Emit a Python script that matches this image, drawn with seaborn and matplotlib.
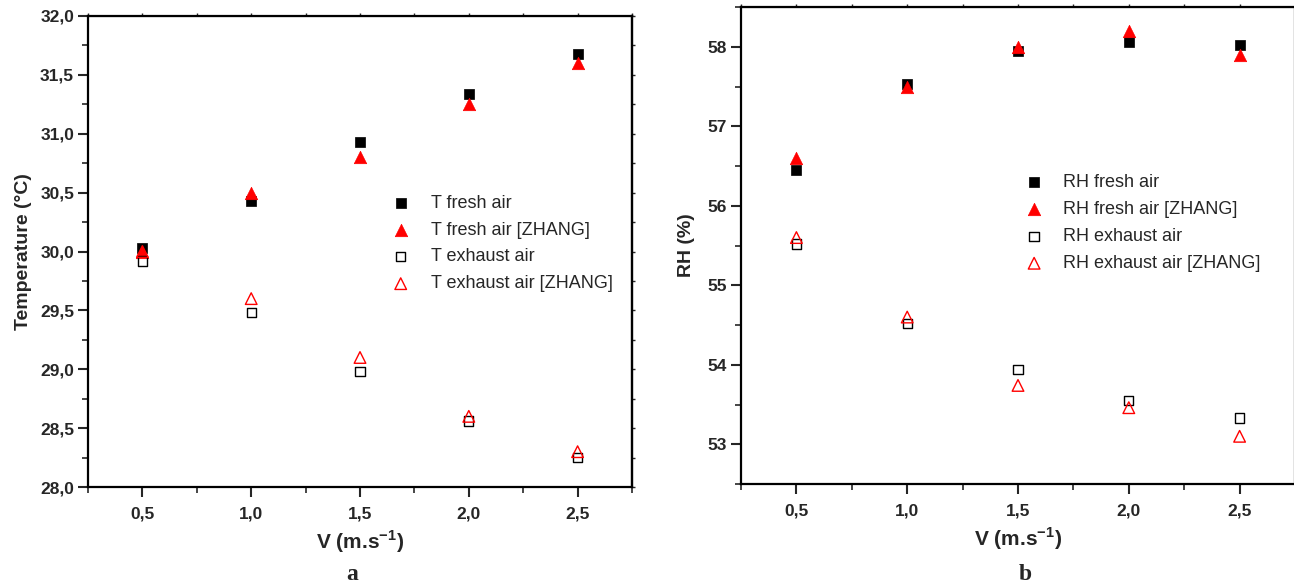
import numpy as np
import pandas as pd
import matplotlib
matplotlib.use("Agg")
import matplotlib.pyplot as plt
import seaborn as sns
from matplotlib.ticker import MultipleLocator, FuncFormatter

# data
v = [0.5, 1.0, 1.5, 2.0, 2.5]

t_fresh = [30.03, 30.43, 30.93, 31.34, 31.68]
t_fresh_zhang = [30.00, 30.50, 30.80, 31.25, 31.60]
t_exhaust = [29.92, 29.48, 28.98, 28.56, 28.25]
t_exhaust_zhang = [30.00, 29.60, 29.10, 28.60, 28.30]

rh_fresh = [56.45, 57.53, 57.95, 58.06, 58.02]
rh_fresh_zhang = [56.60, 57.50, 58.00, 58.20, 57.90]
rh_exhaust = [55.52, 54.52, 53.94, 53.55, 53.33]
rh_exhaust_zhang = [55.60, 54.60, 53.74, 53.46, 53.10]

sns.set_style("ticks")
plt.rcParams['font.family'] = ['Liberation Sans', 'DejaVu Sans']

fig = plt.figure(figsize=(12.94, 5.85), dpi=100)
ax1 = fig.add_axes([88 / 1294, 1 - 487 / 585, 544 / 1294, 471 / 585])
ax2 = fig.add_axes([741 / 1294, 1 - 484 / 585, 554 / 1294, 477 / 585])

comma = FuncFormatter(lambda x, p: f"{x:.1f}".replace(".", ","))


def draw(ax, series, prefix):
    # (values, label suffix, marker, filled, colour, size)
    for vals, name, mk, filled, col, size in series:
        df = pd.DataFrame({"v": v, "y": vals})
        if filled:
            sns.scatterplot(data=df, x="v", y="y", ax=ax, marker=mk, s=size,
                            color=col, edgecolor=col, linewidth=0.5,
                            label=f"{prefix} {name}")
        else:
            sns.scatterplot(data=df, x="v", y="y", ax=ax, marker=mk, s=size,
                            facecolors="none", edgecolor=col, linewidth=1.0,
                            label=f"{prefix} {name}")


draw(ax1, [
    (t_fresh, "fresh air", "s", True, "black", 60),
    (t_fresh_zhang, "fresh air [ZHANG]", "^", True, "red", 80),
    (t_exhaust, "exhaust air", "s", False, "black", 45),
    (t_exhaust_zhang, "exhaust air [ZHANG]", "^", False, "red", 70),
], "T")
draw(ax2, [
    (rh_fresh, "fresh air", "s", True, "black", 60),
    (rh_fresh_zhang, "fresh air [ZHANG]", "^", True, "red", 80),
    (rh_exhaust, "exhaust air", "s", False, "black", 45),
    (rh_exhaust_zhang, "exhaust air [ZHANG]", "^", False, "red", 70),
], "RH")

ax1.set_ylim(28, 32)
ax1.yaxis.set_major_locator(MultipleLocator(0.5))
ax1.yaxis.set_minor_locator(MultipleLocator(0.25))
ax1.yaxis.set_major_formatter(comma)
ax1.set_ylabel("Temperature (°C)", fontsize=14, fontweight="bold", labelpad=6)

ax2.set_ylim(52.5, 58.5)
ax2.yaxis.set_major_locator(MultipleLocator(1))
ax2.yaxis.set_minor_locator(MultipleLocator(0.5))
ax2.set_ylabel("RH (%)", fontsize=14, fontweight="bold", labelpad=9)

for ax in (ax1, ax2):
    ax.set_xlim(0.25, 2.75)
    ax.xaxis.set_major_locator(MultipleLocator(0.5))
    ax.xaxis.set_minor_locator(MultipleLocator(0.25))
    ax.xaxis.set_major_formatter(comma)
    ax.set_xlabel("V (m.s$^{\\mathregular{-1}}$)", fontsize=15, fontweight="bold",
                  labelpad=5)
    for sp in ax.spines.values():
        sp.set_visible(True)
        sp.set_linewidth(1.6)
        sp.set_color("black")
    ax.tick_params(which="major", direction="out", length=7, width=1.5,
                   labelsize=12.5)
    ax.tick_params(which="minor", direction="out", length=4, width=1.2)
    ax.tick_params(axis="x", which="major", pad=7)
    ax.tick_params(axis="y", which="major", pad=3)
    for lab in ax.get_xticklabels() + ax.get_yticklabels():
        lab.set_fontweight("bold")
    # short mirrored ticks on top and right
    top = ax.secondary_xaxis("top")
    top.xaxis.set_major_locator(MultipleLocator(0.25))
    top.tick_params(direction="out", length=2, width=1, labeltop=False)
    right = ax.secondary_yaxis("right")
    right.yaxis.set_major_locator(MultipleLocator(0.25 if ax is ax1 else 0.5))
    right.tick_params(direction="out", length=2, width=1, labelright=False)
    right.spines["right"].set_linewidth(1.6)

ax1.legend(loc="center left", bbox_to_anchor=(0.535, 0.517), frameon=False,
           fontsize=13, handlelength=1.0, handletextpad=1.2, labelspacing=0.55,
           borderpad=0.2)
ax2.legend(loc="center left", bbox_to_anchor=(0.49, 0.547), frameon=False,
           fontsize=13, handlelength=1.0, handletextpad=1.1, labelspacing=0.55,
           borderpad=0.2)

fig.text(352 / 1294, 1 - 574 / 585, "a", family=["Liberation Serif", "DejaVu Serif"],
         fontsize=17, fontweight="bold", ha="center", va="center")
fig.text(1025 / 1294, 1 - 574 / 585, "b", family=["Liberation Serif", "DejaVu Serif"],
         fontsize=17, fontweight="bold", ha="center", va="center")

fig.savefig("out.png", dpi=100)
